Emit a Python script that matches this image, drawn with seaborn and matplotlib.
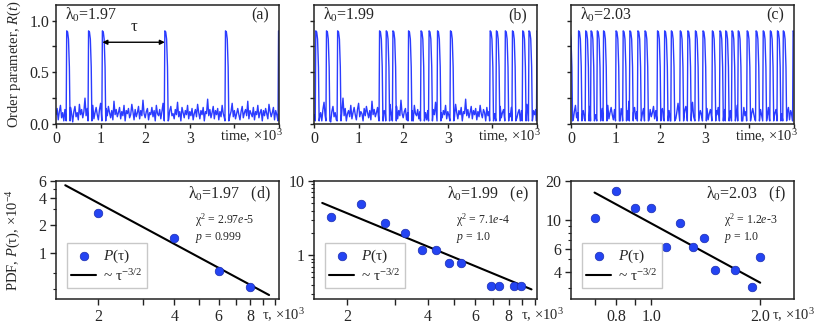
import numpy as np
import pandas as pd
import seaborn as sns
import matplotlib.pyplot as plt

# ---- top row: order parameter R(t), time in units of 10^3 ----
lambdas = ["1.97", "1.99", "2.03"]
panel_top = ["(a)", "(b)", "(c)"]
panel_bot = ["(d)", "(e)", "(f)"]

spikes_a = [0.24, 0.73, 1.04, 2.44, 3.80, 4.99]
spikes_b = [0.04, 0.28, 0.53, 1.47, 1.62, 1.77, 2.12, 2.40, 2.58, 2.77, 3.06,
            3.95, 4.09, 4.29, 4.45, 4.68, 4.82, 5.0]
spikes_c = [-0.04, 0.17, 0.33, 0.45, 0.59, 0.73, 1.01, 1.17, 1.32, 1.50, 1.66,
            1.94, 2.10, 2.25, 2.45, 2.62, 2.79, 2.96, 3.17, 3.34, 3.47, 3.61,
            3.75, 3.95, 4.15, 4.31, 4.47, 4.63, 4.76, 4.98]

# background fluctuations of R between bursts (x0.01), one sample every 0.025
noise = [9, 15, 4, 12, 18, 6, 11, 3, 14, 21, 8, 13, 5, 16, 10, 2, 12, 17, 7, 11,
         4, 19, 9, 14, 6, 12, 25, 8, 15, 3, 10, 13, 7, 18, 5, 11, 16, 9, 4, 14,
         20, 7, 12, 10, 3, 15, 8, 17, 11, 6, 13, 4, 22, 9, 14, 7, 11, 16, 5, 12,
         8, 18, 3, 13, 10, 15, 6, 9, 19, 12, 4, 14, 7, 11, 17, 5, 13, 8, 23, 10,
         6, 12, 15, 4, 11, 9, 16, 7, 13, 3, 18, 10, 8, 14, 5, 12, 20, 9, 6, 15,
         11, 4, 13, 17, 8, 10, 5, 14, 9, 21, 7, 12, 3, 16, 11, 6, 13, 9, 18, 5,
         12, 8, 15, 4, 10, 14, 7, 19, 11, 5, 13, 9, 16, 3, 12, 10, 24, 8, 14, 6,
         11, 17, 5, 13, 9, 15, 4, 12, 7, 18, 10, 6, 14, 11, 3, 16, 8, 12, 20, 7,
         13, 5, 10, 15, 9, 4, 12, 17, 6, 11, 14, 8, 22, 5, 13, 10, 7, 16, 4, 12,
         9, 18, 6, 11, 14, 3, 13, 8, 15, 10, 5, 19, 12, 7, 11, 16, 4, 13, 9, 14]
noise_step = 0.025

# shape of one burst (offset in time, value of R)
burst_dt = [-0.012, 0.0, 0.02, 0.04, 0.06, 0.075]
burst_r = [0.03, 0.90, 0.89, 0.82, 0.55, 0.03]

# ---- bottom row: PDF of inter-burst interval tau (x10^3), P in 1e-4 ----
tau_d = [2, 4, 6, 8]
pdf_d = [2.68, 1.44, 0.64, 0.427]
tau_e = [1.74, 2.25, 2.76, 3.27, 3.78, 4.29, 4.80, 5.31, 6.84, 7.35, 8.37, 8.88]
pdf_e = [3.28, 4.96, 2.72, 1.96, 1.17, 1.17, 0.773, 0.773, 0.386, 0.386, 0.386, 0.386]
tau_f = [0.7, 0.8, 0.9, 1.0, 1.1, 1.2, 1.3, 1.4, 1.5, 1.7, 1.9, 2.0]
pdf_f = [10.4, 16.7, 12.5, 12.5, 6.18, 9.44, 6.18, 7.24, 4.14, 4.14, 3.08, 5.17]

# ends of the ~tau^-3/2 fit lines
fit_tau = [[1.48, 9.5], [1.61, 9.73], [0.697, 2.0]]
fit_pdf = [[5.44, 0.347], [5.06, 0.345], [16.3, 3.31]]

chi2 = ["2.97", "7.1", "1.2"]
chi2_exp = ["-5", "-4", "-3"]
pvals = ["0.999", "1.0", "1.0"]


def trace(spikes):
    t = np.arange(len(noise)) * noise_step
    r = np.array(noise) / 100.0
    keep = np.ones(len(t), bool)
    for s in spikes:
        keep &= ~((t > s + burst_dt[0] - 0.005) & (t < s + burst_dt[-1] + 0.005))
    tt = list(t[keep])
    rr = list(r[keep])
    for s in spikes:
        tt += [s + d for d in burst_dt]
        rr += burst_r
    df = pd.DataFrame({"t": tt, "R": rr}).sort_values("t")
    return df


sns.set_theme(style="ticks")
plt.rcParams["font.family"] = ["Liberation Serif", "DejaVu Serif"]
plt.rcParams["mathtext.fontset"] = "custom"
plt.rcParams["mathtext.rm"] = "Liberation Serif"
plt.rcParams["mathtext.it"] = "Liberation Serif:italic"
plt.rcParams["axes.edgecolor"] = "#222222"
plt.rcParams["axes.linewidth"] = 1.1

fig = plt.figure(figsize=(8.17, 3.25), dpi=100)
lefts = [56 / 817, 314 / 817, 571 / 817]
w = 223 / 817
top_axes = [fig.add_axes([l, 1 - 124 / 325, w, 119 / 325]) for l in lefts]
bot_axes = [fig.add_axes([l, 1 - 299 / 325, w, 118 / 325]) for l in lefts]

blue = "#2b3cff"
for i, (ax, spk) in enumerate(zip(top_axes, [spikes_a, spikes_b, spikes_c])):
    df = trace(spk)
    sns.lineplot(data=df, x="t", y="R", ax=ax, sort=False, estimator=None,
                 color=blue, lw=1.0)
    ax.set_xlim(0, 5)
    ax.set_ylim(0, 1.15)
    ax.set_xticks([0, 1, 2, 3, 4, 5])
    ax.set_xticklabels(["0", "1", "2", "3", "", ""])
    ax.set_yticks([0, 0.25, 0.5, 0.75, 1.0])
    if i == 0:
        ax.set_yticklabels(["0.0", "", "0.5", "", "1.0"])
        ax.set_ylabel("Order parameter, $R$($t$)", fontsize=10.5)
        ax.yaxis.set_label_coords(-0.15, 0.5)
    else:
        ax.set_yticklabels([])
        ax.set_ylabel("")
    ax.set_xlabel("")
    ax.tick_params(length=3, width=1, pad=2, labelsize=11.5, color="#222222")
    ax.text(1.02, -0.03, "time, ×10$^3$", transform=ax.transAxes,
            ha="right", va="top", fontsize=10.5)
    ax.text(0.04, 0.915, "λ$_0$=" + lambdas[i], transform=ax.transAxes,
            ha="left", va="center", fontsize=11.5)
    ax.text(0.955, 0.915, panel_top[i], transform=ax.transAxes,
            ha="right", va="center", fontsize=11.5)

# tau arrow in (a)
ax = top_axes[0]
ax.annotate("", xy=(spikes_a[3], 0.79), xytext=(spikes_a[2], 0.79),
            arrowprops=dict(arrowstyle="<|-|>", color="black", lw=1,
                            mutation_scale=7, shrinkA=0, shrinkB=0))
ax.text((spikes_a[2] + spikes_a[3]) / 2, 0.86, "τ", ha="center", va="bottom",
        fontsize=12)

# bottom row
taus = [tau_d, tau_e, tau_f]
pdfs = [pdf_d, pdf_e, pdf_f]
xlims = [(1.36, 10.4), (1.5, 10.2), (0.6, 2.48)]
ylims = [(0.314, 6.05), (0.256, 10), (2.48, 20)]
xt = [([2, 3, 4, 5, 6, 7, 8, 9, 10], ["2", "", "4", "", "6", "", "8", "", ""]),
      ([2, 3, 4, 5, 6, 7, 8, 9, 10], ["2", "", "4", "", "6", "", "8", "", ""]),
      ([0.7, 0.8, 0.9, 1.0, 2.0], ["", "0.8", "", "1.0", "2.0"])]
yt = [([1, 2, 4, 6], ["1", "2", "4", "6"], [0.4, 0.6, 3, 5]),
      ([1, 10], ["1", "10"], [0.3, 0.4, 0.5, 0.6, 0.7, 0.8, 0.9, 2, 3, 4, 5, 6, 7, 8, 9]),
      ([4, 6, 10, 20], ["4", "6", "10", "20"], [3, 5, 7, 8, 9])]
xlab_x = [0.925, 0.93, 0.9]

for i, ax in enumerate(bot_axes):
    df = pd.DataFrame({"tau": taus[i], "P": pdfs[i]})
    fit = pd.DataFrame({"tau": fit_tau[i], "P": fit_pdf[i]})
    sns.lineplot(data=fit, x="tau", y="P", ax=ax, color="black", lw=1.5,
                 label="~ τ$^{-3/2}$", zorder=2)
    sns.scatterplot(data=df, x="tau", y="P", ax=ax, s=38, color="#2444f2",
                    edgecolor="#1a2cb0", linewidth=0.5, label="$P$(τ)", zorder=3)
    ax.set_xscale("log")
    ax.set_yscale("log")
    ax.set_xlim(*xlims[i])
    ax.set_ylim(*ylims[i])
    ax.xaxis.set_minor_locator(plt.NullLocator())
    ax.set_xticks(xt[i][0])
    ax.set_xticklabels(xt[i][1])
    ax.set_yticks(yt[i][0])
    ax.set_yticklabels(yt[i][1])
    ax.set_yticks(yt[i][2], minor=True)
    ax.yaxis.set_minor_formatter(plt.NullFormatter())
    ax.tick_params(which="major", length=4, width=1, pad=3, labelsize=11.5,
                   color="#222222")
    ax.tick_params(which="minor", length=2.5, width=0.8, color="#222222")
    ax.set_xlabel("")
    ax.set_ylabel("")
    ax.text(xlab_x[i], -0.06, "τ, ×10$^3$", transform=ax.transAxes,
            ha="left", va="top", fontsize=10.5)
    ax.text(0.965, 0.89, "λ$_0$=" + lambdas[i] + "   " + panel_bot[i],
            transform=ax.transAxes, ha="right", va="center", fontsize=11.5)
    sx = [0.623, 0.638, 0.685][i]
    ax.text(sx, 0.665, "χ$^2$ = " + chi2[i] + "$e$" + chi2_exp[i],
            transform=ax.transAxes, ha="left", va="center", fontsize=8.5)
    ax.text(sx, 0.525, "$p$ = " + pvals[i], transform=ax.transAxes,
            ha="left", va="center", fontsize=8.5)
    h, l = ax.get_legend_handles_labels()
    ax.legend([h[1], h[0]], [l[1], l[0]], loc="lower left",
              bbox_to_anchor=(0.048, 0.09), borderaxespad=0, fontsize=11,
              frameon=True, fancybox=False, edgecolor="#bbbbbb",
              handlelength=1.6, handletextpad=0.5, borderpad=0.3,
              labelspacing=0.2)

bot_axes[0].set_ylabel("PDF, $P$(τ), ×10$^{-4}$", fontsize=10.5)
bot_axes[0].yaxis.set_label_coords(-0.15, 0.5)

fig.savefig("out.png", dpi=100)
